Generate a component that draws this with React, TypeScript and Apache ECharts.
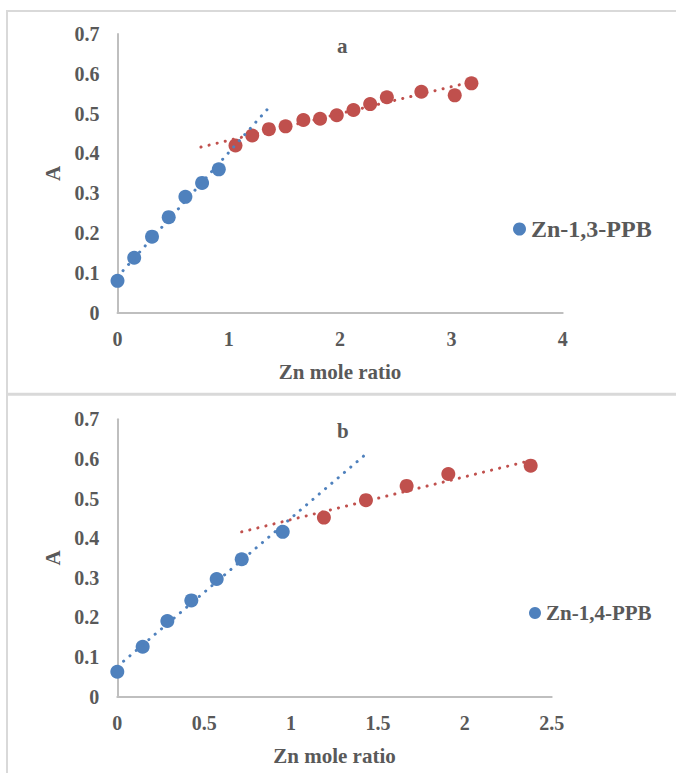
import React, { useEffect, useRef } from "react";
import * as echarts from "echarts";

// Panel a: Zn-1,3-PPB
const xA_blue = [0, 0.15, 0.31, 0.46, 0.61, 0.76, 0.91];
const yA_blue = [0.08, 0.138, 0.191, 0.24, 0.291, 0.326, 0.36];
const xA_red = [1.06, 1.21, 1.36, 1.51, 1.67, 1.82, 1.97, 2.12, 2.27, 2.42, 2.73, 3.03, 3.18];
const yA_red = [0.42, 0.445, 0.461, 0.468, 0.484, 0.487, 0.496, 0.509, 0.524, 0.541, 0.555, 0.546, 0.576];
const trendA_blue_x = [0, 1.35];
const trendA_blue_y = [0.09, 0.512];
const trendA_red_x = [0.75, 3.2];
const trendA_red_y = [0.416, 0.581];

// Panel b: Zn-1,4-PPB
const xB_blue = [0, 0.146, 0.288, 0.426, 0.572, 0.716, 0.952];
const yB_blue = [0.063, 0.126, 0.191, 0.243, 0.297, 0.347, 0.416];
const xB_red = [1.189, 1.431, 1.665, 1.905, 2.379];
const yB_red = [0.452, 0.496, 0.532, 0.562, 0.583];
const trendB_blue_x = [0, 1.425];
const trendB_blue_y = [0.076, 0.61];
const trendB_red_x = [0.716, 2.36];
const trendB_red_y = [0.416, 0.594];

const titles = ["a", "b"];
const legendNames = ["Zn-1,3-PPB", "Zn-1,4-PPB"];
const xAxisName = "Zn mole ratio";
const yAxisName = "A";

const pairs = (xs: number[], ys: number[]) => xs.map((x, i) => [x, ys[i]]);

const BLUE = "#4f81bd";
const RED = "#c0504d";
const TXT = "#595959";
const FONT = "'Liberation Serif', 'Times New Roman', serif";

export default function App() {
  const ref = useRef<HTMLDivElement>(null);
  useEffect(() => {
    document.body.style.margin = "0";
    const chart = echarts.init(ref.current!, null, { renderer: "svg" });
    const axisLabel = { color: TXT, fontFamily: FONT, fontWeight: "bold" as const, fontSize: 20 };
    const nameStyle = { color: TXT, fontFamily: FONT, fontWeight: "bold" as const, fontSize: 21 };
    const axisLine = { show: true, lineStyle: { color: "#bfbfbf", width: 2 } };
    const mkX = (idx: number, max: number, interval: number) => ({
      type: "value" as const,
      gridIndex: idx,
      min: 0,
      max,
      interval,
      name: xAxisName,
      nameLocation: "middle" as const,
      nameGap: 49,
      nameTextStyle: nameStyle,
      axisLine,
      axisTick: { show: false },
      splitLine: { show: false },
      axisLabel: { ...axisLabel, margin: 16 },
    });
    const mkY = (idx: number) => ({
      type: "value" as const,
      gridIndex: idx,
      min: 0,
      max: 0.7,
      interval: 0.1,
      name: yAxisName,
      nameLocation: "middle" as const,
      nameGap: 54,
      nameTextStyle: nameStyle,
      axisLine,
      axisTick: { show: false },
      splitLine: { show: false },
      axisLabel: { ...axisLabel, margin: 18 },
    });
    const scatter = (name: string, idx: number, xs: number[], ys: number[], color: string) => ({
      type: "scatter" as const,
      name,
      xAxisIndex: idx,
      yAxisIndex: idx,
      data: pairs(xs, ys),
      symbol: "circle",
      symbolSize: 14,
      itemStyle: { color, opacity: 1 },
      z: 3,
    });
    const trend = (name: string, idx: number, xs: number[], ys: number[], color: string) => ({
      type: "line" as const,
      name,
      xAxisIndex: idx,
      yAxisIndex: idx,
      data: pairs(xs, ys),
      showSymbol: false,
      symbol: "none",
      lineStyle: { color, width: 3, type: [0.1, 8.2], cap: "round" as const },
      z: 4,
      silent: true,
    });
    chart.setOption({
      animation: false,
      backgroundColor: "#ffffff",
      title: [
        {
          text: titles[0],
          left: 337,
          top: 35,
          padding: 0,
          textStyle: { ...nameStyle, lineHeight: 22 },
        },
        {
          text: titles[1],
          left: 337,
          top: 420,
          padding: 0,
          textStyle: { ...nameStyle, lineHeight: 22 },
        },
      ],
      legend: [
        {
          data: [legendNames[0]],
          left: 513,
          top: 217,
          padding: 0,
          icon: "circle",
          itemWidth: 13,
          itemHeight: 13,
          selectedMode: false,
          textStyle: { color: TXT, fontFamily: FONT, fontWeight: "bold", fontSize: 24, lineHeight: 24 },
        },
        {
          data: [legendNames[1]],
          left: 529,
          top: 602,
          padding: 0,
          icon: "circle",
          itemWidth: 12,
          itemHeight: 12,
          selectedMode: false,
          textStyle: { color: TXT, fontFamily: FONT, fontWeight: "bold", fontSize: 21, lineHeight: 22 },
        },
      ],
      grid: [
        { left: 117.5, top: 34, width: 445.2, height: 278.7 },
        { left: 117.3, top: 419.3, width: 434.4, height: 277.4 },
      ],
      xAxis: [mkX(0, 4, 1), mkX(1, 2.5, 0.5)],
      yAxis: [mkY(0), mkY(1)],
      series: [
        scatter(legendNames[0], 0, xA_blue, yA_blue, BLUE),
        scatter("Zn-1,3-PPB excess", 0, xA_red, yA_red, RED),
        trend("Trend a1", 0, trendA_blue_x, trendA_blue_y, BLUE),
        trend("Trend a2", 0, trendA_red_x, trendA_red_y, RED),
        scatter(legendNames[1], 1, xB_blue, yB_blue, BLUE),
        scatter("Zn-1,4-PPB excess", 1, xB_red, yB_red, RED),
        trend("Trend b1", 1, trendB_blue_x, trendB_blue_y, BLUE),
        trend("Trend b2", 1, trendB_red_x, trendB_red_y, RED),
      ],
      graphic: [
        { type: "line", shape: { x1: 7, y1: 11, x2: 676, y2: 11 }, style: { stroke: "#d9d9d9", lineWidth: 2 } },
        { type: "line", shape: { x1: 7, y1: 10, x2: 7, y2: 773 }, style: { stroke: "#d9d9d9", lineWidth: 2 } },
        { type: "line", shape: { x1: 7, y1: 394.3, x2: 676, y2: 394.3 }, style: { stroke: "#d9d9d9", lineWidth: 3 } },
      ],
    });
    return () => chart.dispose();
  }, []);
  return <div ref={ref} style={{ width: 676, height: 773 }} />;
}
